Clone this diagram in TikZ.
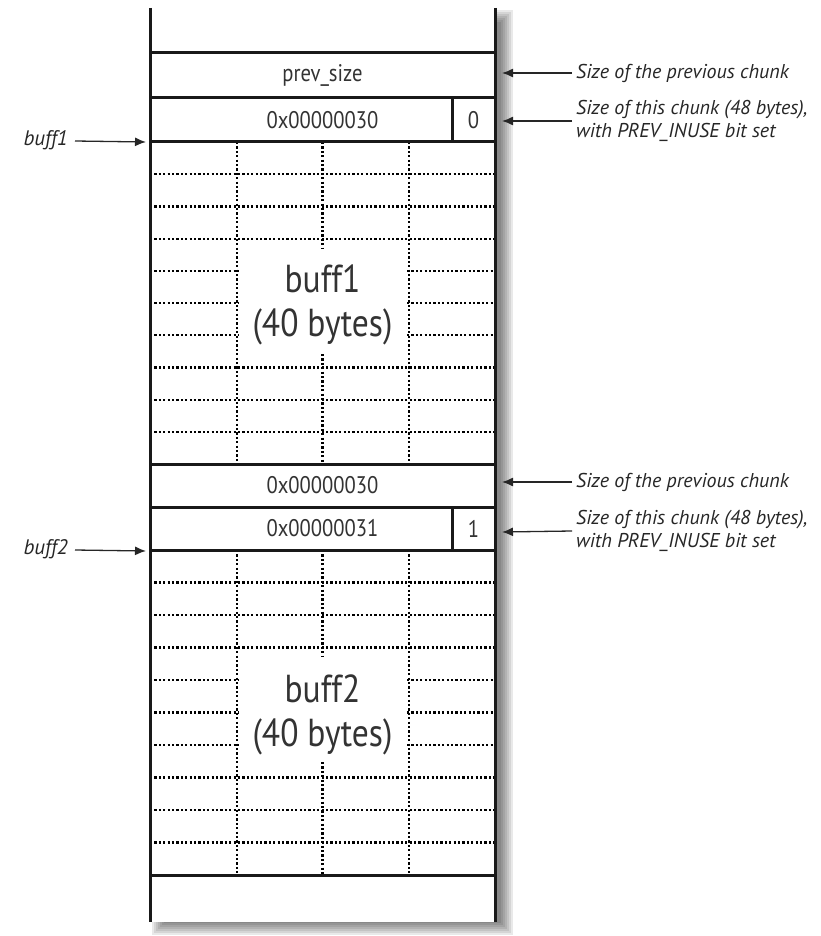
\documentclass[tikz,border=0pt]{standalone}
\usepackage{fontspec}
\setmainfont{PT Sans}[FakeStretch=0.86]
\newfontfamily\notefont{PT Sans}
\usetikzlibrary{arrows.meta}
\begin{document}
\begin{tikzpicture}[x=1pt,y=-1pt,
  solidline/.style={line width=3pt, draw=black!90},
  dotline/.style={line width=2.2pt, draw=black, dash pattern=on 2.2pt off 2.2pt},
  celltext/.style={inner sep=0pt, font=\fontsize{24}{28}\selectfont, text=black!80},
  bigtext/.style={inner sep=0pt, align=center, font=\fontsize{39}{44}\selectfont, text=black!80},
  note/.style={inner sep=0pt, align=left, font=\notefont\itshape\fontsize{20}{23.5}\selectfont, text=black!85},
  arr/.style={line width=1.3pt, draw=black!85, -{Latex[length=11pt,width=9pt]}}]
\useasboundingbox (0,0) rectangle (820,936);
% shadow
\foreach \k in {0,...,6}
  \fill[black, opacity=0.085] (152+2*\k,10+2*\k) rectangle (513-2*\k,935-2*\k);
\fill[white] (150,8) rectangle (495,922);
% dotted grids
\foreach \T/\h in {142/32.2, 550/32.5}{
  \foreach \i in {1,...,9}{
    \ifnum\i<4
      \draw[dotline] (150,\T+\i*\h) -- (495,\T+\i*\h);
    \else\ifnum\i>6
      \draw[dotline] (150,\T+\i*\h) -- (495,\T+\i*\h);
    \else
      \draw[dotline] (150,\T+\i*\h) -- (239,\T+\i*\h);
      \draw[dotline] (407,\T+\i*\h) -- (495,\T+\i*\h);
    \fi\fi
  }
  \draw[dotline] (237,\T) -- (237,\T+10*\h);
  \draw[dotline] (409,\T) -- (409,\T+10*\h);
  \draw[dotline] (322.5,\T) -- (322.5,\T+106);
  \draw[dotline] (322.5,\T+212) -- (322.5,\T+10*\h);
}
% solid lines
\foreach \y in {53,98,142,464,507,550,875}
  \draw[solidline] (150,\y) -- (495,\y);
\draw[solidline] (452,98) -- (452,142);
\draw[solidline] (452,507) -- (452,550);
\draw[solidline] (150,8) -- (150,922);
\draw[solidline] (495,8) -- (495,922);
% cell texts
\node[celltext] (prevsize) at (322.5,75.5) {prev\_size};
\node[celltext] (size1) at (322.5,120) {0x00000030};
\node[celltext] (bit1) at (473.5,120) {0};
\node[bigtext] (b1) at (322.5,305) {buff1\\(40 bytes)};
\node[celltext] (prev2) at (322.5,485.5) {0x00000030};
\node[celltext] (size2) at (322.5,528.5) {0x00000031};
\node[celltext] (bit2) at (473.5,528.5) {1};
\node[bigtext] (b2) at (322.5,715) {buff2\\(40 bytes)};
% right notes
\coordinate (r1) at (502,73);
\coordinate (r2) at (502,121);
\coordinate (r3) at (502,482);
\coordinate (r4) at (502,532);
\node[note, anchor=west] (n1) at (576,73) {Size of the previous chunk};
\node[note, anchor=west] (n2) at (576,121) {Size of this chunk (48 bytes),\\with PREV\_INUSE bit set};
\node[note, anchor=west] (n3) at (576,482) {Size of the previous chunk};
\node[note, anchor=west] (n4) at (576,531) {Size of this chunk (48 bytes),\\with PREV\_INUSE bit set};
\draw[arr] ([xshift=-4pt]n1.west) -- (r1);
\draw[arr] ([xshift=-4pt]n2.west) -- (r2);
\draw[arr] ([xshift=-4pt]n3.west) -- (r3);
\draw[arr] ([xshift=-4pt]n4.west) -- (r4);
% left labels
\coordinate (l1) at (146,142);
\coordinate (l2) at (146,551);
\node[note, anchor=east, font=\notefont\itshape\fontsize{21}{24}\selectfont] (p1) at (68,140) {buff1};
\node[note, anchor=east, font=\notefont\itshape\fontsize{21}{24}\selectfont] (p2) at (68,549) {buff2};
\draw[arr] ([xshift=7pt,yshift=-1pt]p1.east) -- (l1);
\draw[arr] ([xshift=7pt,yshift=-1pt]p2.east) -- (l2);
\end{tikzpicture}
\end{document}
